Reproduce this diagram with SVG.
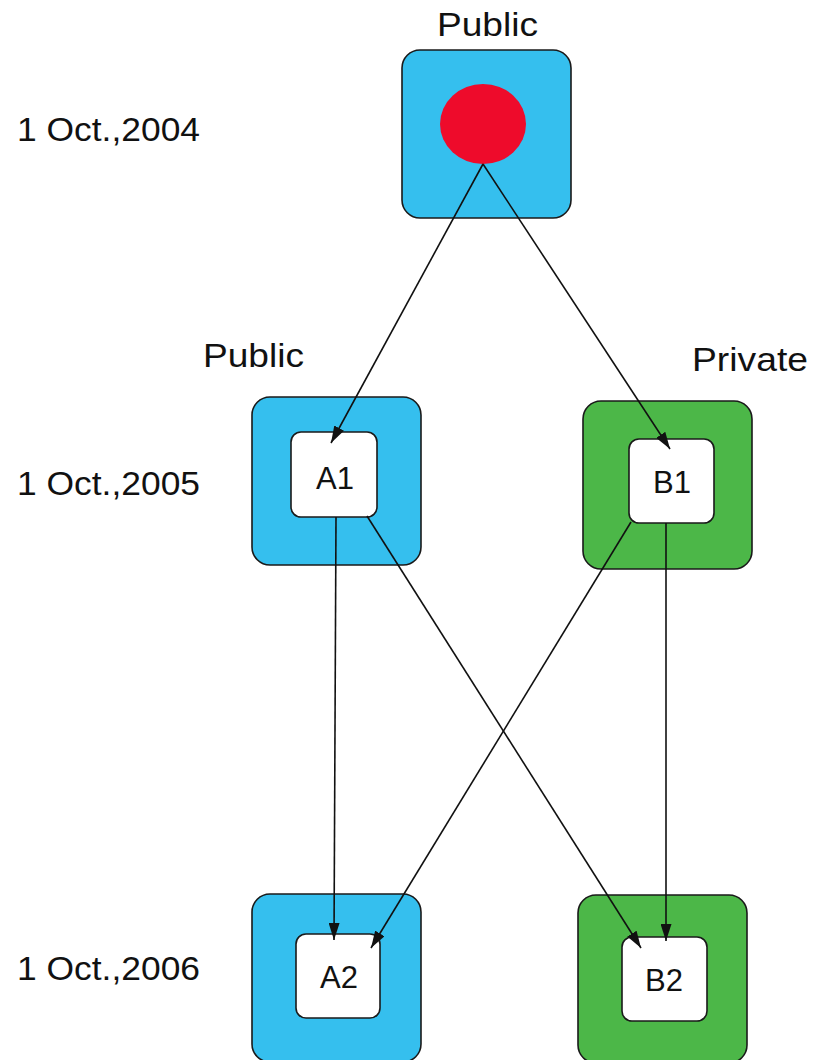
<svg xmlns="http://www.w3.org/2000/svg" width="813" height="1060" viewBox="0 0 813 1060">
<style>
.t{font-family:"Liberation Sans",Arial,sans-serif;fill:#111;}
.lbl{font-size:33px;}
.nt{font-size:31px;text-anchor:middle;}
.blue{fill:#35bfee;stroke:#1a1a1a;stroke-width:1.6;}
.green{fill:#4cb748;stroke:#1a1a1a;stroke-width:1.6;}
.inner{fill:#ffffff;stroke:#1a1a1a;stroke-width:1.6;}
.edge{stroke:#111;stroke-width:1.6;fill:none;marker-end:url(#ah);}
</style>
<defs>
<marker id="ah" viewBox="0 0 17 11" refX="17" refY="5.5" markerWidth="17" markerHeight="11" markerUnits="userSpaceOnUse" orient="auto">
<path d="M0,0 L17,5.5 L0,11 z" fill="#111"/>
</marker>
</defs>
<rect width="813" height="1060" fill="#ffffff"/>
<g id="date-labels">
<text class="t lbl" x="17" y="141" textLength="183" lengthAdjust="spacingAndGlyphs">1 Oct.,2004</text>
<text class="t lbl" x="17" y="495" textLength="183" lengthAdjust="spacingAndGlyphs">1 Oct.,2005</text>
<text class="t lbl" x="17" y="980" textLength="183" lengthAdjust="spacingAndGlyphs">1 Oct.,2006</text>
</g>
<g id="root">
<text class="t lbl" x="437" y="36" textLength="101" lengthAdjust="spacingAndGlyphs">Public</text>
<rect class="blue" x="402" y="50" width="169" height="168" rx="18"/>
<ellipse cx="483" cy="124" rx="43" ry="40" fill="#ee0b2b"/>
</g>
<g id="A1">
<text class="t lbl" x="203" y="367" textLength="101" lengthAdjust="spacingAndGlyphs">Public</text>
<rect class="blue" x="252" y="397" width="169" height="168" rx="18"/>
<rect class="inner" x="291" y="432" width="86" height="85" rx="10"/>
<text class="t nt" x="335" y="489">A1</text>
</g>
<g id="B1">
<text class="t lbl" x="692" y="371" textLength="116" lengthAdjust="spacingAndGlyphs">Private</text>
<rect class="green" x="583" y="401" width="169" height="168" rx="18"/>
<rect class="inner" x="629" y="439" width="85" height="84" rx="10"/>
<text class="t nt" x="672" y="493">B1</text>
</g>
<g id="A2">
<rect class="blue" x="252" y="894" width="169" height="168" rx="18"/>
<rect class="inner" x="296" y="934" width="84" height="84" rx="10"/>
<text class="t nt" x="339" y="988">A2</text>
</g>
<g id="B2">
<rect class="green" x="578" y="895" width="169" height="168" rx="18"/>
<rect class="inner" x="622" y="937" width="85" height="84" rx="10"/>
<text class="t nt" x="664" y="991">B2</text>
</g>
<g id="connectors">
<line class="edge" x1="483" y1="164" x2="331" y2="443"/>
<line class="edge" x1="483" y1="164" x2="670" y2="449"/>
<line class="edge" x1="336" y1="517" x2="334" y2="940"/>
<line class="edge" x1="367" y1="516" x2="641" y2="948"/>
<line class="edge" x1="631" y1="522" x2="371" y2="948"/>
<line class="edge" x1="666" y1="523" x2="666" y2="941"/>
</g>
</svg>
